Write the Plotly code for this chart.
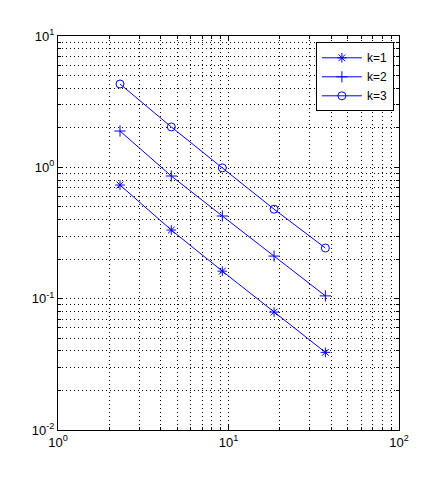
import plotly.graph_objects as go

# values (log-log convergence plot)
x = [2.31, 4.62, 9.2, 18.5, 37.0]
err_k1 = [0.733, 0.333, 0.162, 0.079, 0.039]
err_k2 = [1.89, 0.859, 0.426, 0.211, 0.105]
err_k3 = [4.31, 2.03, 0.99, 0.48, 0.243]
names = ["k=1", "k=2", "k=3"]
symbols = ["asterisk-open", "cross-thin-open", "circle-open"]

def log_ticks(lo, hi):
    major = [10.0 ** e for e in range(lo, hi + 1)]
    labels = ["10<sup>%d</sup>" % e for e in range(lo, hi + 1)]
    minor = [m * 10.0 ** e for e in range(lo, hi) for m in range(2, 10)]
    return major, labels, minor

xv, xt, xm = log_ticks(0, 2)
yv, yt, ym = log_ticks(-2, 1)

fig = go.Figure()
for name, ys, sym in zip(names, [err_k1, err_k2, err_k3], symbols):
    fig.add_scatter(x=x, y=ys, mode="lines+markers", name=name,
                    line=dict(color="#0000ff", width=1),
                    marker=dict(symbol=sym, size=8, color="#0000ff",
                                line=dict(color="#0000ff", width=1)))

dots = "1px,3px"
axis_style = dict(type="log", showline=True, linecolor="black", linewidth=1,
                  mirror="ticks", ticks="inside", ticklen=5, tickcolor="black",
                  showgrid=True, gridcolor="black", griddash=dots, gridwidth=1,
                  zeroline=False, automargin=False,
                  tickfont=dict(size=13, color="black"))

fig.update_xaxes(range=[0, 2], tickmode="array", tickvals=xv, ticktext=xt,
                 minor=dict(tickmode="array", tickvals=xm, ticks="inside", ticklen=3,
                            tickcolor="black", showgrid=True, gridcolor="black",
                            griddash=dots, gridwidth=1),
                 **axis_style)
fig.update_yaxes(range=[-2, 1], tickmode="array", tickvals=yv, ticktext=yt,
                 minor=dict(tickmode="array", tickvals=ym, ticks="inside", ticklen=3,
                            tickcolor="black", showgrid=True, gridcolor="black",
                            griddash=dots, gridwidth=1),
                 **axis_style)

# page body adds an 8px offset, so the figure is 8px smaller and margins shifted
fig.update_layout(
    width=433, height=475,
    margin=dict(l=50, r=42, t=28, b=53),
    paper_bgcolor="white", plot_bgcolor="white",
    font=dict(family="Liberation Sans, Arial", size=13, color="black"),
    legend=dict(x=0.985, y=0.984, xanchor="right", yanchor="top",
                bgcolor="white", bordercolor="black", borderwidth=1,
                font=dict(size=12), tracegroupgap=0, itemwidth=40),
)

fig.write_html("out.html")
